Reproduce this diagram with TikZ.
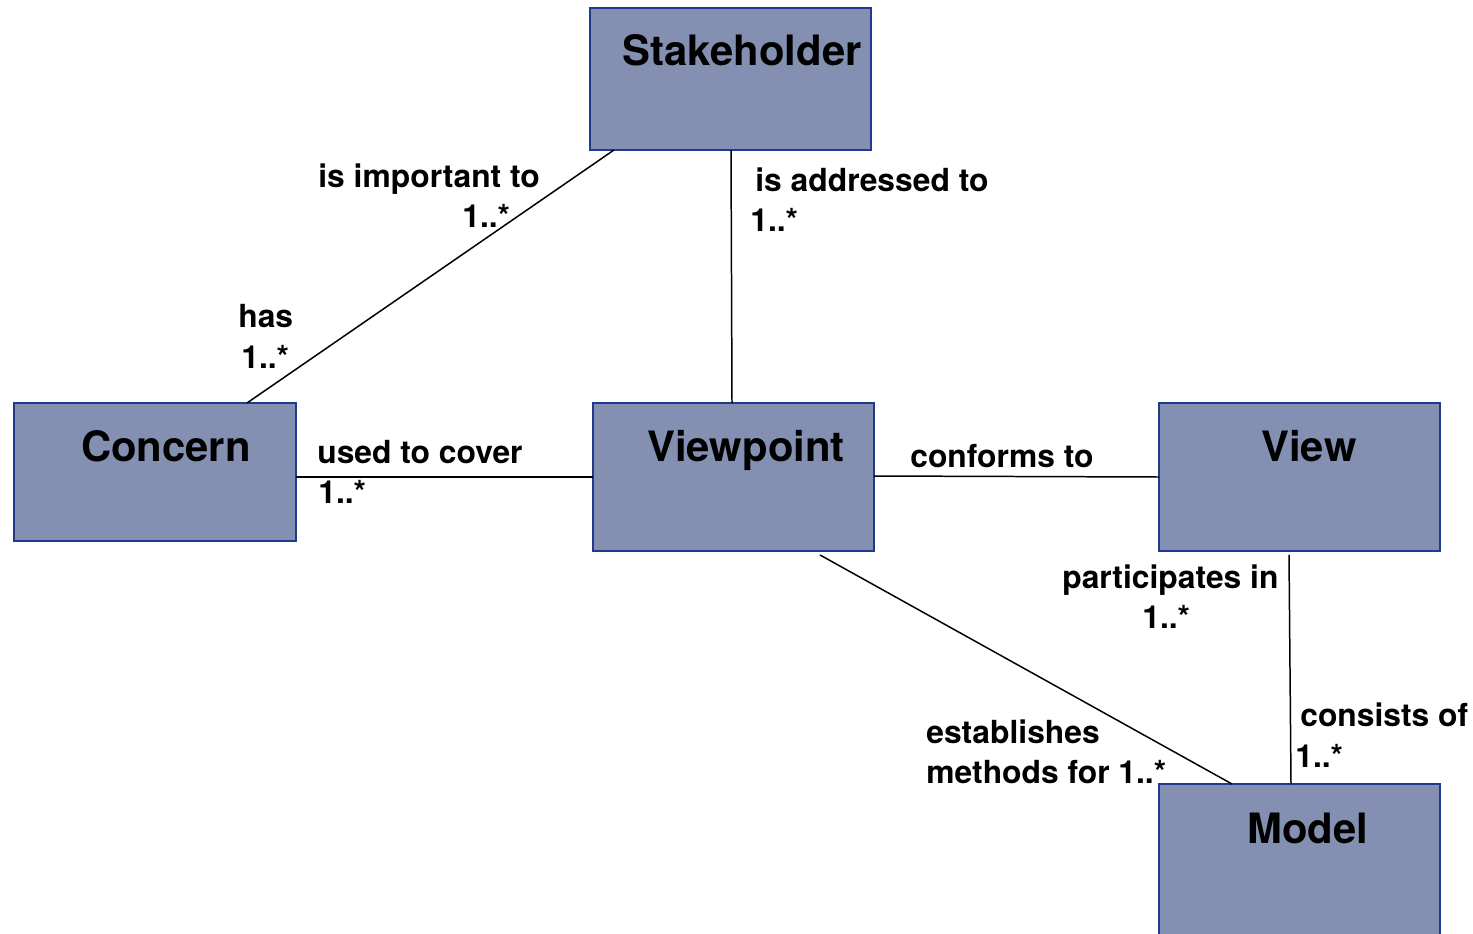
\documentclass[tikz,border=0pt]{standalone}
\usepackage{fontspec}
\setmainfont{TeX Gyre Heros}
\usetikzlibrary{calc}
\definecolor{boxfill}{HTML}{8490B2}
\definecolor{boxline}{HTML}{213A8C}
\begin{document}
\begin{tikzpicture}[x=0.02cm,y=-0.02cm,
  box/.style={draw=boxline, fill=boxfill, line width=1.1pt, anchor=north west, inner sep=0pt, outer sep=0pt},
  title/.style={font=\fontsize{23.8}{28}\selectfont\bfseries, anchor=base, inner sep=0pt},
  lbl/.style={font=\fontsize{18.1}{22}\selectfont\bfseries, anchor=base west, inner sep=0pt},
  conn/.style={line width=0.85pt, black}]
\useasboundingbox (0,0) rectangle (1473,933);
\clip (0,0) rectangle (1473,933);
% boxes
\node[box, minimum width=5.62cm, minimum height=2.84cm] (stake) at (590,8) {};
\node[box, minimum width=5.64cm, minimum height=2.76cm] (concern) at (14,403) {};
\node[box, minimum width=5.62cm, minimum height=2.96cm] (vp) at (593,403) {};
\node[box, minimum width=5.62cm, minimum height=2.96cm] (view) at (1159,403) {};
\node[box, minimum width=5.62cm, minimum height=3.4cm] (model) at (1159,784) {};
% titles
\node[title] (tstake) at (742,65) {Stakeholder};
\node[title] (tconcern) at (166,461) {Concern};
\node[title] (tvp) at (746,461) {Viewpoint};
\node[title] (tview) at (1309,461) {View};
\node[title] (tmodel) at (1308,843) {Model};
% connectors
\draw[conn] ($(stake.south west)+(24,0)$) -- ($(concern.north west)+(233,0)$);
\draw[conn] ($(stake.south west)+(141,0)$) -- ($(vp.north west)+(139,0)$);
\draw[conn] ($(concern.north east)+(0,74)$) -- ($(vp.north west)+(0,74)$);
\draw[conn] ($(vp.north east)+(0,73)$) -- ($(view.north west)+(0,74)$);
\draw[conn] ($(vp.south west)+(227,4)$) -- ($(model.north west)+(73,0)$);
\draw[conn] ($(view.south west)+(130,4)$) -- ($(model.north west)+(132,0)$);
% labels
\node[lbl] (l1) at (318,187) {is important to};
\node[lbl] (l1m) at (462,227) {1..*};
\node[lbl] (l2) at (238,327) {has};
\node[lbl] (l2m) at (241,368) {1..*};
\node[lbl] (l3) at (755,191) {is addressed to};
\node[lbl] (l3m) at (750,231) {1..*};
\node[lbl] (l4) at (317,463) {used to cover};
\node[lbl] (l4m) at (318,503) {1..*};
\node[lbl] (l5) at (910,467) {conforms to};
\node[lbl] (l6) at (1062,588) {participates in};
\node[lbl] (l6m) at (1142,628) {1..*};
\node[lbl] (l7) at (926,743) {establishes};
\node[lbl] (l7m) at (926,783) {methods for 1..*};
\node[lbl] (l8) at (1300,726) {consists of};
\node[lbl] (l8m) at (1295,767) {1..*};
\end{tikzpicture}
\end{document}
